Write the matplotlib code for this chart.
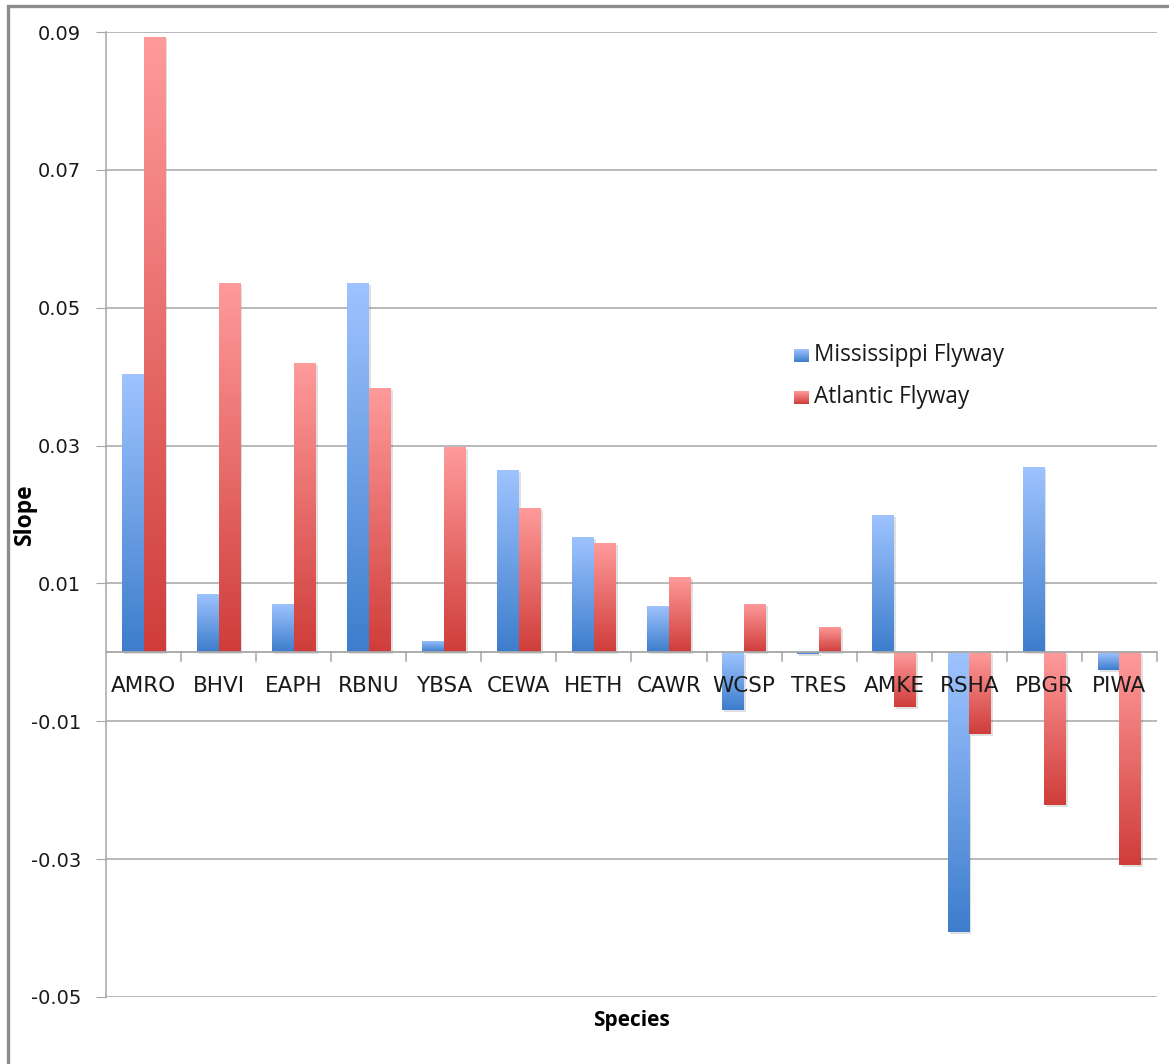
import numpy as np
import matplotlib
matplotlib.use("Agg")
import matplotlib.pyplot as plt
from matplotlib.patches import Rectangle
from matplotlib.colors import LinearSegmentedColormap
import matplotlib.patheffects as pe

species = ["AMRO", "BHVI", "EAPH", "RBNU", "YBSA", "CEWA", "HETH",
           "CAWR", "WCSP", "TRES", "AMKE", "RSHA", "PBGR", "PIWA"]
mississippi = [0.0404, 0.0085, 0.0070, 0.0536, 0.0016, 0.0265, 0.0167,
               0.0067, -0.0083, -0.0003, 0.0199, -0.0406, 0.0269, -0.0026]
atlantic = [0.0893, 0.0536, 0.0420, 0.0384, 0.0298, 0.0210, 0.0159,
            0.0109, 0.0070, 0.0037, -0.0079, -0.0118, -0.0221, -0.0309]
yticks = [0.09, 0.07, 0.05, 0.03, 0.01, -0.01, -0.03, -0.05]

blue_cmap = LinearSegmentedColormap.from_list("b", ["#3d7dcc", "#9fc4ff"])
red_cmap = LinearSegmentedColormap.from_list("r", ["#cf3d3a", "#ff9b9b"])

fig = plt.figure(figsize=(11.69, 10.64), dpi=100)
ax = fig.add_axes([0.0907, 0.063, 0.8990, 0.9069])

# outer chart frame (runs off the right and bottom edges)
fig.patches.append(Rectangle((0.0065, -0.05), 1.1, 1.0444, transform=fig.transFigure,
                             fill=False, edgecolor="#8c8c8c", linewidth=2.4))

x = np.arange(len(species))
w = 0.29

grad = np.linspace(0, 1, 256).reshape(-1, 1)


def gradient_bars(xpos, vals, cmap):
    bars = ax.bar(xpos, vals, width=w, color="#ffffff", linewidth=0, zorder=2,
                  path_effects=[pe.SimplePatchShadow(offset=(1.5, -1.5), alpha=0.18,
                                                     shadow_rgbFace="#555555"),
                                pe.Normal()])
    for b in bars:
        x0, y0 = b.get_x(), b.get_y()
        h = b.get_height()
        lo, hi = min(y0, y0 + h), max(y0, y0 + h)
        im = ax.imshow(grad, cmap=cmap, aspect="auto", origin="lower",
                       extent=(x0, x0 + b.get_width(), lo, hi), zorder=3,
                       interpolation="bilinear")
        im.set_clip_path(b)
    return bars


gradient_bars(x - w / 2, mississippi, blue_cmap)
gradient_bars(x + w / 2, atlantic, red_cmap)
ax.set_xlim(-0.5, len(species) - 0.5)
ax.set_ylim(-0.05, 0.09)

# gridlines and axes
for t in yticks:
    ax.axhline(t, color="#a6a6a6", linewidth=1.1, zorder=1)
ax.axhline(0, color="#a6a6a6", linewidth=1.3, zorder=4)
for k in range(1, len(species) + 1):
    ax.plot([k - 0.5, k - 0.5], [0, -0.0012], color="#a6a6a6", linewidth=1.1,
            zorder=4, clip_on=False)

for s in ["top", "right", "bottom"]:
    ax.spines[s].set_visible(False)
ax.spines["left"].set_color("#a6a6a6")
ax.spines["left"].set_linewidth(1.1)

ax.set_yticks(yticks)
ax.set_yticklabels([f"{t:.2f}" for t in yticks], fontsize=14, color="#1a1a1a",
                   family="DejaVu Sans")
ax.tick_params(axis="y", length=7, color="#a6a6a6", pad=11)
ax.set_xticks([])

for i, name in enumerate(species):
    ax.annotate(name, (i, 0), xytext=(0, -24), textcoords="offset points",
                ha="center", va="center", fontsize=15.5, color="#1a1a1a",
                family="DejaVu Sans", zorder=6)

ax.set_ylabel("Slope", fontsize=16.5, fontweight="bold", family="Open Sans")
ax.yaxis.set_label_coords(-0.066, 0.5)
ax.set_xlabel("Species", fontsize=15, fontweight="bold", family="Open Sans")
ax.xaxis.set_label_coords(0.5, -0.013)

# legend
legend_items = [("Mississippi Flyway", blue_cmap), ("Atlantic Flyway", red_cmap)]
for j, (lab, cmap) in enumerate(legend_items):
    ly = 0.666 - j * 0.0395
    axl = fig.add_axes([0.6795, ly - 0.0061, 0.0128, 0.0122])
    axl.imshow(grad, cmap=cmap, aspect="auto", origin="lower")
    axl.axis("off")
    fig.text(0.6965, ly, lab, fontsize=16.3, family="Open Sans",
             color="#1a1a1a", va="center", ha="left")

fig.savefig("out.png", dpi=100, facecolor="white")
